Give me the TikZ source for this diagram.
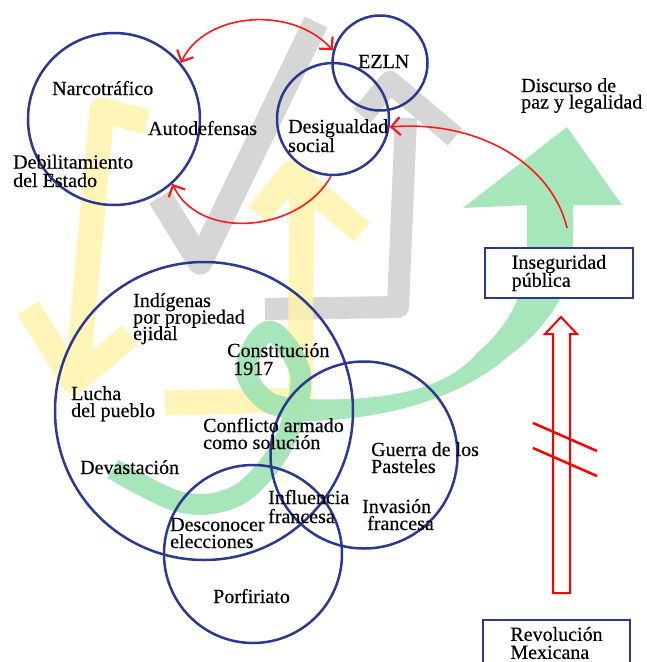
\documentclass[tikz,border=0pt]{standalone}
\usepackage{fontspec}
\setmainfont{Liberation Serif}[FakeBold=0.35]
\usetikzlibrary{arrows.meta}

\definecolor{ringblue}{RGB}{44,56,145}
\definecolor{brushgray}{RGB}{214,214,214}
\definecolor{brushyellow}{RGB}{255,243,168}
\definecolor{brushgreen}{RGB}{152,226,174}
\definecolor{arrowred}{RGB}{255,24,24}

\newcommand\lblfont[1]{\fontsize{20}{#1}\selectfont}
\lineskiplimit=-30pt

\tikzset{
  ring/.style={draw=ringblue, line width=2.5pt, circle, inner sep=0pt},
  boxed/.style={draw=ringblue, line width=2.5pt, fill=white, align=left, font=\lblfont{18}},
  % multi-line labels are placed by the baseline of their last line
  lbl/.style={anchor=base west, inner sep=0pt, align=left, font=\lblfont{17.5}},
  graystroke/.style={draw=brushgray, line width=25pt, line join=round},
  yellowstroke/.style={draw=brushyellow, line width=25pt, line join=round},
  greenstroke/.style={draw=brushgreen, line width=21pt, line join=round},
  redlink/.style={draw=arrowred, line width=1.6pt},
  redbarb/.tip={Straight Barb[length=9pt,width=18pt,line width=2.2pt]},
  hollowarrow/.style={draw=red, line width=2pt, line join=miter},
  slash/.style={draw=red, line width=2.5pt}
}

\begin{document}
\begin{tikzpicture}[x=1pt, y=-1pt]
\fill[white] (0,0) rectangle (647,662);
\useasboundingbox (0,0) rectangle (647,662);

% gray brush strokes
\draw[graystroke] (160,197) -- (200,262) -- (316,22);
\draw[graystroke, line width=22pt] (265,309) -- (398,307) -- (406,118);
\draw[graystroke, line width=22pt] (362,116) -- (390,82) -- (455,137);

% yellow brush strokes
\begin{scope}[transparency group, opacity=0.8]
\draw[yellowstroke] (147,122) -- (102,110) -- (77,380);
\draw[yellowstroke] (28,308) -- (74,382) -- (130,335);
\draw[yellowstroke] (165,403) -- (300,400) -- (302,182);
\draw[yellowstroke] (258,215) -- (292,173) -- (362,232);
\end{scope}

% green brush stroke ending in the big arrow
\begin{scope}[transparency group, opacity=0.85]
\draw[greenstroke] plot[smooth, tension=0.6] coordinates
  {(113,469) (180,502) (232,498) (268,467) (291,425) (300,372) (270,331) (246,368) (268,402) (312,410)};
\fill[brushgreen] (300,399) .. controls (380,402) and (445,392) .. (478,352)
  .. controls (510,325) and (527,290) .. (527,250) -- (527,205) -- (463,208)
  -- (567,127) -- (622,205) -- (573,205) -- (573,250)
  .. controls (573,290) and (545,330) .. (510,355)
  .. controls (465,395) and (390,421) .. (300,421) -- cycle;
\end{scope}

% circles
\node[ring, minimum size=172pt] (narco) at (114,119) {};
\node[ring, minimum size=95pt] (ezln) at (380,63) {};
\node[ring, minimum size=112pt] (desig) at (333,119) {};
\node[ring, minimum size=298pt] (pueblo) at (204,411) {};
\node[ring, minimum size=187pt] (guerra) at (364,455) {};
\node[ring, minimum size=178pt] (porf) at (253,554) {};

% boxes
\node[boxed, minimum width=148pt, minimum height=50pt] (inseg) at (559,273) {Inseguridad\\pública};
\node[boxed, minimum width=147pt, minimum height=46pt] (revol) at (556.5,643) {Revolución\\Mexicana};

% labels
\node[lbl] (narcotxt) at (52,95) {Narcotráfico};
\node[lbl] (autotxt) at (148,135) {Autodefensas};
\node[lbl, font=\lblfont{18.5}] (debiltxt) at (13,187) {Debilitamiento\\del Estado};
\node[lbl] (ezlntxt) at (358,68) {EZLN};
\node[lbl, font=\lblfont{19}] (desigtxt) at (288,152) {Desigualdad\\social};
\node[lbl, font=\lblfont{16.5}] (discursotxt) at (521,108.5) {Discurso de\\paz y legalidad};
\node[lbl, font=\lblfont{16.5}] (indtxt) at (133,340) {Indígenas\\por propiedad\\ejidal};
\node[lbl, font=\lblfont{18}] (consttxt) at (227,375) {Constitución\\\hspace*{6pt}1917};
\node[lbl, font=\lblfont{17}] (luchatxt) at (71,417) {Lucha\\del pueblo};
\node[lbl, font=\lblfont{17}] (conflictotxt) at (203,449) {Conflicto armado\\como solución};
\node[lbl] (devtxt) at (80,474) {Devastación};
\node[lbl, font=\lblfont{17}] (guerratxt) at (371,473) {Guerra de los\\Pasteles};
\node[lbl, font=\lblfont{19}] (influtxt) at (268,523) {Influencia\\francesa};
\node[lbl, font=\lblfont{17}] (invasiontxt) at (362,530) {Invasión\\\hspace*{5pt}francesa};
\node[lbl, font=\lblfont{17}] (descontxt) at (170,548) {Desconocer\\elecciones};
\node[lbl] (porftxt) at (213,603) {Porfiriato};

% red links
\draw[redlink, redbarb-redbarb] (narco.40) .. controls (205,12) and (292,5) .. (ezln.165);
\draw[redlink, -redbarb] (desig.268) .. controls (300,232) and (200,242) .. (narco.-48);
\coordinate (greenstem) at (567,228);
\draw[redlink, -redbarb] (greenstem) .. controls (552,165) and (480,120) .. (desig.-8);

% hollow arrow from the revolution box up to the insecurity box
\draw[hollowarrow] (553,593) -- (553,334) -- (545,334) -- (561,317) -- (577,334)
  -- (570,334) -- (570,593) -- cycle;
\draw[slash] (533,423) -- (597,451);
\draw[slash] (533,448) -- (597,476);
\end{tikzpicture}
\end{document}
